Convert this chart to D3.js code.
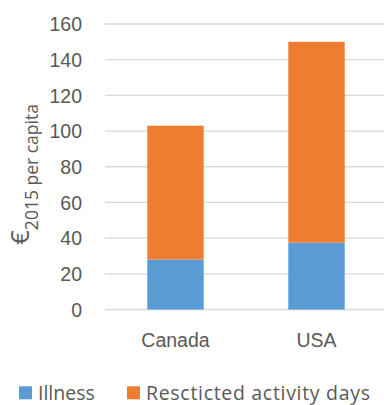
<!DOCTYPE html>
<html>
<head>
<meta charset="utf-8">
<script src="https://cdn.jsdelivr.net/npm/d3@7"></script>
<style>
  html, body { margin: 0; padding: 0; background: #fff; }
  svg { display: block; font-family: "Open Sans", "Noto Sans", sans-serif; }
</style>
</head>
<body>
<svg id="chart" width="384" height="405"></svg>
<script>
// Health cost per capita by country, stacked by component
const countries = ["Canada", "USA"];
const seriesNames = ["Illness", "Rescticted activity days"];
const illness = [28, 37.5];
const restrictedDays = [75, 112.5];
const yTicks = [0, 20, 40, 60, 80, 100, 120, 140, 160];
const colors = ["#5B9BD5", "#ED7D31"];

const svg = d3.select("#chart");
const textColor = "#595959";

const x = d3.scaleBand().domain(countries).range([105, 387]);
const y = d3.scaleLinear().domain([0, 160]).range([309.5, 24]);

// horizontal gridlines
svg.append("g")
  .selectAll("line")
  .data(yTicks)
  .join("line")
  .attr("x1", 105).attr("x2", 384)
  .attr("y1", d => y(d)).attr("y2", d => y(d))
  .attr("stroke", "#D9D9D9").attr("stroke-width", 1.3);

// y tick labels
const gy = svg.append("g")
  .attr("transform", "translate(82,0)")
  .call(d3.axisLeft(y).tickValues(yTicks).tickSize(0).tickPadding(0));
gy.select(".domain").remove();
gy.selectAll("text")
  .attr("fill", textColor).style("font-size", "19.5px")
  .attr("dy", "0.35em");

// stacked bars
const rows = countries.map((c, i) => ({ country: c, illness: illness[i], restricted: restrictedDays[i] }));
const stacked = d3.stack().keys(["illness", "restricted"])(rows);
const barW = x.bandwidth() * 0.4;

svg.append("g")
  .selectAll("g")
  .data(stacked)
  .join("g")
  .attr("fill", (d, i) => colors[i])
  .selectAll("rect")
  .data(d => d)
  .join("rect")
  .attr("x", d => x(d.data.country) + (x.bandwidth() - barW) / 2)
  .attr("width", barW)
  .attr("y", d => y(d[1]))
  .attr("height", d => y(d[0]) - y(d[1]));

// category labels
const gx = svg.append("g")
  .attr("transform", "translate(0,347.3)")
  .call(d3.axisBottom(x).tickSize(0).tickPadding(0));
gx.select(".domain").remove();
gx.selectAll("text")
  .attr("fill", textColor).style("font-size", "19.5px")
  .attr("dy", 0);

// y axis title: euro sign with subscripted year and unit
const title = svg.append("text")
  .attr("transform", "translate(29,245) rotate(-90)")
  .attr("fill", textColor);
title.append("tspan").text("€").style("font-size", "26px");
title.append("tspan").text("2015 per capita").style("font-size", "17.5px").attr("dy", 9);

// legend
const legend = svg.append("g").attr("transform", "translate(0,399.8)");
const legendX = [19, 127];
const legendW = [null, 224];
seriesNames.forEach((name, i) => {
  legend.append("rect")
    .attr("x", legendX[i]).attr("y", -13.5)
    .attr("width", 13).attr("height", 13)
    .attr("fill", colors[i]);
  const t = legend.append("text")
    .attr("x", legendX[i] + 19).attr("y", 0)
    .attr("fill", textColor).style("font-size", "19.5px")
    .text(name);
  if (legendW[i]) t.attr("textLength", legendW[i]).attr("lengthAdjust", "spacing");
});
</script>
</body>
</html>
